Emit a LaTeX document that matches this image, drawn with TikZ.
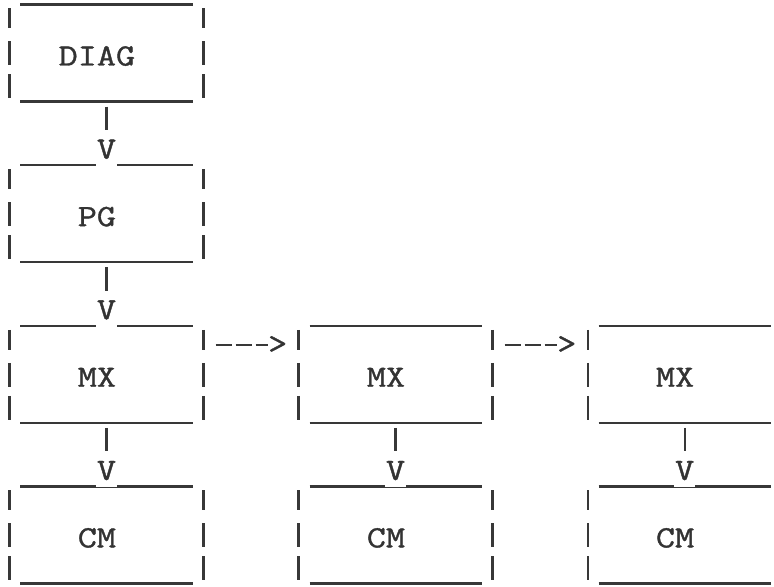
\documentclass[tikz,border=0pt]{standalone}
\usepackage{fontspec}
\newfontfamily\typeface{Latin Modern Mono}[FakeStretch=1.2, FakeBold=1.2]
\usetikzlibrary{positioning,calc}

\tikzset{
  ink/.style={draw=black!78, line width=1.6pt},
  dashline/.style={draw=black!78, line width=1.2pt, dash pattern=on 0.4cm off 0.1cm},
  lbl/.style={font=\typeface\fontsize{22}{22}\selectfont, text=black!80, inner sep=0pt},
  box/.style={minimum width=4.85cm, minimum height=2.425cm, inner sep=0pt, outer sep=0pt,
    label={[lbl, xshift=-0.24cm, yshift=-0.075cm]center:#1}},
  vtip/.style={lbl, fill=white, inner xsep=0.5pt, inner ysep=0.18cm},
  gtip/.style={lbl},
}

% box sides and rules, typed look
\newcommand\tbox[1]{%
  \draw[ink] ($(#1.north west)+(11,0)$) -- ($(#1.north east)+(-11,0)$)
             ($(#1.south west)+(11,0)$) -- ($(#1.south east)+(-11,0)$);
  \foreach \a/\b in {4/24,37/61,70/94}
    \draw[ink] ($(#1.north west)+(0,\a)$) -- ($(#1.north west)+(0,\b)$)
               ($(#1.north east)+(0,\a)$) -- ($(#1.north east)+(0,\b)$);
}

\begin{document}
\begin{tikzpicture}[x=0.025cm, y=-0.025cm, node distance=1.59cm and 2.375cm]
  \useasboundingbox (0,0) rectangle (774,586);
  \clip (0,0) rectangle (774,586);

  \node[box=DIAG] (diag) at (106.5,53) {};
  \node[box=PG, below=of diag] (pg) {};
  \node[box=MX, below=of pg] (mxa) {};
  \node[box=CM, below=of mxa] (cma) {};
  \node[box=MX, right=of mxa] (mxb) {};
  \node[box=CM, below=of mxb] (cmb) {};
  \node[box=MX, right=of mxb] (mxc) {};
  \node[box=CM, below=of mxc] (cmc) {};

  \foreach \n in {diag,pg,mxa,cma,mxb,cmb,mxc,cmc} {\tbox{\n}}

  % downward calls
  \foreach \u/\l in {diag/pg, pg/mxa, mxa/cma, mxb/cmb, mxc/cmc} {
    \node[vtip, anchor=south] (v-\l) at ([yshift=-0.03cm]\l.north) {V};
    \draw[ink] ($(\u.south)+(0,5)$) -- ($(v-\l.north)+(0,-2)$);
  }

  % sideways links
  \foreach \u/\l in {mxa/mxb, mxb/mxc} {
    \node[gtip, anchor=east] (g-\l) at ($(\l.north west)+(-11,19)$) {>};
    \draw[dashline] ($(\u.north east)+(12,19)$) -- (g-\l.west);
  }
\end{tikzpicture}
\end{document}
